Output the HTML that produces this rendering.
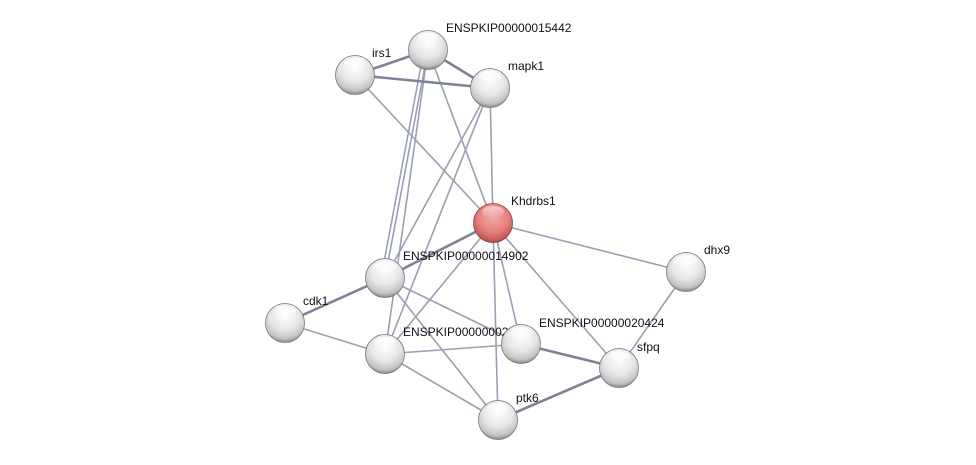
<!DOCTYPE html>
<html><head><meta charset="utf-8"><style>html,body{margin:0;padding:0;background:#fff}svg{display:block}</style></head><body>
<svg width="976" height="465" viewBox="0 0 976 465" xmlns="http://www.w3.org/2000/svg">
<defs>
<radialGradient id="g" cx="0.5" cy="0.3" r="0.7">
<stop offset="0" stop-color="#ffffff"/><stop offset="0.55" stop-color="#e6e6e6"/><stop offset="0.85" stop-color="#c4c4c4"/><stop offset="1" stop-color="#8a8a8a"/></radialGradient>
<radialGradient id="r" cx="0.5" cy="0.35" r="0.7">
<stop offset="0" stop-color="#f6a8a8"/><stop offset="0.55" stop-color="#e58080"/><stop offset="0.85" stop-color="#c85858"/><stop offset="1" stop-color="#903838"/></radialGradient>
<linearGradient id="hl" x1="0" y1="0" x2="0" y2="1"><stop offset="0" stop-color="#fff" stop-opacity="0.95"/><stop offset="1" stop-color="#fff" stop-opacity="0"/></linearGradient>
</defs>
<g stroke="#9aa0b4" stroke-width="1.6" fill="none">
<line x1="355" y1="75" x2="493" y2="223"/>
<line x1="428" y1="50" x2="493" y2="223"/>
<line x1="490" y1="88" x2="493" y2="223"/>
<line x1="428" y1="50" x2="385" y2="278"/>
<line x1="424" y1="50" x2="381" y2="278"/>
<line x1="428" y1="50" x2="385" y2="354"/>
<line x1="490" y1="88" x2="385" y2="278"/>
<line x1="490" y1="88" x2="385" y2="354"/>
<line x1="493" y1="223" x2="385" y2="354"/>
<line x1="493" y1="223" x2="498" y2="420"/>
<line x1="493" y1="223" x2="521" y2="344"/>
<line x1="493" y1="223" x2="619" y2="368"/>
<line x1="493" y1="223" x2="686" y2="272"/>
<line x1="686" y1="272" x2="619" y2="368"/>
<line x1="285" y1="323" x2="385" y2="354"/>
<line x1="385" y1="278" x2="521" y2="344"/>
<line x1="385" y1="278" x2="498" y2="420"/>
<line x1="385" y1="354" x2="521" y2="344"/>
<line x1="385" y1="354" x2="498" y2="420"/>
</g>
<g stroke="#7c8398" stroke-width="2.6" fill="none">
<line x1="355" y1="75" x2="428" y2="50"/>
<line x1="355" y1="75" x2="490" y2="88"/>
<line x1="428" y1="50" x2="490" y2="88"/>
<line x1="493" y1="223" x2="385" y2="278"/>
<line x1="285" y1="323" x2="385" y2="278"/>
<line x1="521" y1="344" x2="619" y2="368"/>
<line x1="498" y1="420" x2="619" y2="368"/>
</g>
<g font-family="Liberation Sans, sans-serif" font-size="12" fill="#111">
<text x="446" y="32">ENSPKIP00000015442</text>
<text x="372" y="57">irs1</text>
<text x="508" y="70">mapk1</text>
<text x="511" y="205">Khdrbs1</text>
<text x="704" y="254">dhx9</text>
<text x="403" y="260">ENSPKIP00000014902</text>
<text x="303" y="305">cdk1</text>
<text x="403" y="336">ENSPKIP00000002123</text>
<text x="539" y="327">ENSPKIP00000020424</text>
<text x="637" y="351">sfpq</text>
<text x="516" y="402">ptk6</text>
</g>
<g stroke="#777" stroke-width="0.8">
<circle cx="428" cy="50" r="19.5" fill="url(#g)"/>
<circle cx="355" cy="75" r="19.5" fill="url(#g)"/>
<circle cx="490" cy="88" r="19.5" fill="url(#g)"/>
<circle cx="686" cy="272" r="19.5" fill="url(#g)"/>
<circle cx="385" cy="278" r="19.5" fill="url(#g)"/>
<circle cx="285" cy="323" r="19.5" fill="url(#g)"/>
<circle cx="385" cy="354" r="19.5" fill="url(#g)"/>
<circle cx="521" cy="344" r="19.5" fill="url(#g)"/>
<circle cx="619" cy="368" r="19.5" fill="url(#g)"/>
<circle cx="498" cy="420" r="19.5" fill="url(#g)"/>
<circle cx="493" cy="223" r="19.5" fill="url(#r)" stroke="#8a3a3a"/>
</g>
<g fill="url(#hl)">
<ellipse cx="428" cy="39" rx="11" ry="6"/>
<ellipse cx="355" cy="64" rx="11" ry="6"/>
<ellipse cx="490" cy="77" rx="11" ry="6"/>
<ellipse cx="686" cy="261" rx="11" ry="6"/>
<ellipse cx="385" cy="267" rx="11" ry="6"/>
<ellipse cx="285" cy="312" rx="11" ry="6"/>
<ellipse cx="385" cy="343" rx="11" ry="6"/>
<ellipse cx="521" cy="333" rx="11" ry="6"/>
<ellipse cx="619" cy="357" rx="11" ry="6"/>
<ellipse cx="498" cy="409" rx="11" ry="6"/>
<ellipse cx="493" cy="212" rx="11" ry="6" opacity="0.6"/>
</g>
</svg>
</body></html>
